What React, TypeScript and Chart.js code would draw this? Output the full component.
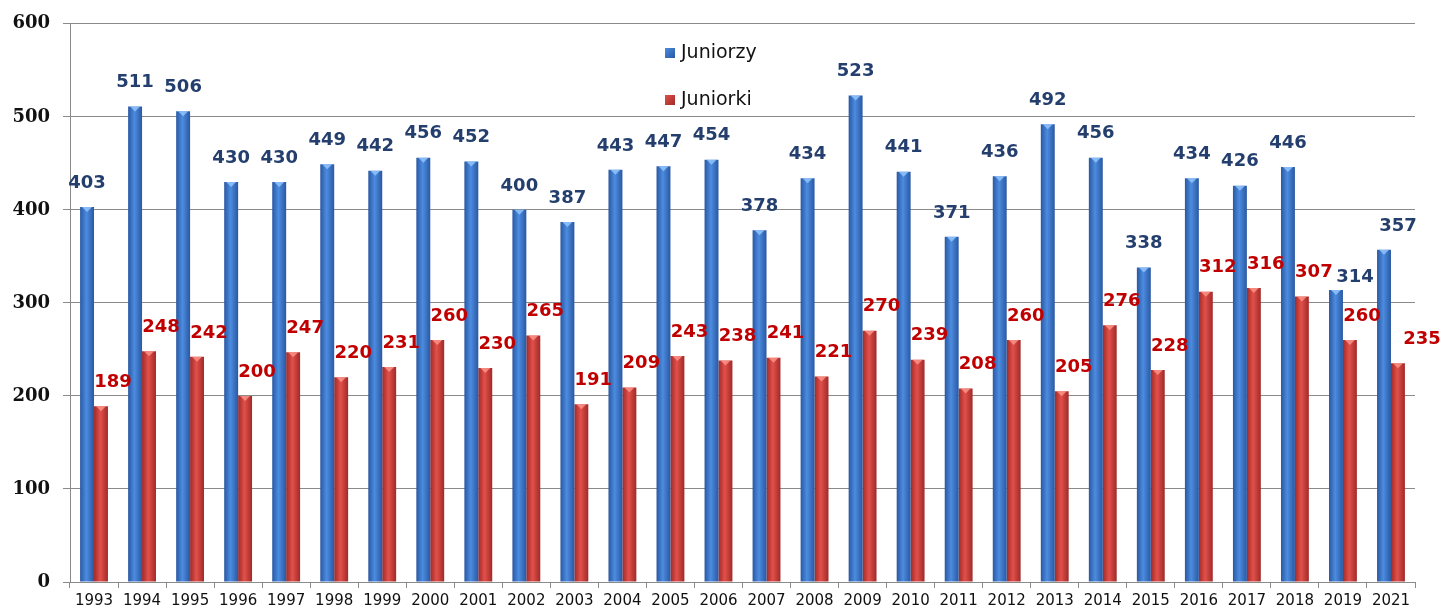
import React, { useEffect, useRef } from "react";
import { Chart, registerables } from "chart.js";

Chart.register(...registerables);

const categories = [
  "1993", "1994", "1995", "1996", "1997", "1998", "1999", "2000", "2001", "2002",
  "2003", "2004", "2005", "2006", "2007", "2008", "2009", "2010", "2011", "2012",
  "2013", "2014", "2015", "2016", "2017", "2018", "2019", "2021",
];
const juniorzy = [
  403, 511, 506, 430, 430, 449, 442, 456, 452, 400, 387, 443, 447, 454, 378, 434,
  523, 441, 371, 436, 492, 456, 338, 434, 426, 446, 314, 357,
];
const juniorki = [
  189, 248, 242, 200, 247, 220, 231, 260, 230, 265, 191, 209, 243, 238, 241, 221,
  270, 239, 208, 260, 205, 276, 228, 312, 316, 307, 260, 235,
];
const yTicks = [0, 100, 200, 300, 400, 500, 600];

const seriesNames = ["Juniorzy", "Juniorki"];
const barColors = [
  { edge: "#2A58A2", mid: "#4C8CE0", solid: "#3B74C6", label: "#243F6E" },
  { edge: "#A02A28", mid: "#E2504A", solid: "#CC3B37", label: "#C00000" },
];

const gradientPlugin = {
  id: "barGradient",
  beforeDatasetsDraw(chart: any) {
    const ctx = chart.ctx;
    chart.data.datasets.forEach((_ds: any, di: number) => {
      const meta = chart.getDatasetMeta(di);
      const c = barColors[di];
      meta.data.forEach((el: any) => {
        const w = el.width;
        const g = ctx.createLinearGradient(el.x - w / 2, 0, el.x + w / 2, 0);
        g.addColorStop(0, c.edge);
        g.addColorStop(0.45, c.mid);
        g.addColorStop(1, c.edge);
        el.options = Object.assign({}, el.options, { backgroundColor: g });
      });
    });
  },
  afterDatasetsDraw(chart: any) {
    // small lighter bevel at the top of each bar
    const ctx = chart.ctx;
    ctx.save();
    chart.data.datasets.forEach((_ds: any, di: number) => {
      const meta = chart.getDatasetMeta(di);
      meta.data.forEach((el: any) => {
        const w = el.width;
        ctx.fillStyle = di === 0 ? "rgba(150,200,255,0.8)" : "rgba(255,150,140,0.8)";
        ctx.beginPath();
        ctx.moveTo(el.x - w / 2 + 2, el.y);
        ctx.lineTo(el.x + w / 2 - 2, el.y);
        ctx.lineTo(el.x, el.y + 5);
        ctx.closePath();
        ctx.fill();
      });
    });
    ctx.restore();
  },
};

const labelPlugin = {
  id: "valueLabels",
  afterDatasetsDraw(chart: any) {
    const ctx = chart.ctx;
    ctx.save();
    ctx.font = "bold 18px 'DejaVu Sans'";
    ctx.textAlign = "center";
    ctx.textBaseline = "bottom";
    chart.data.datasets.forEach((ds: any, di: number) => {
      const meta = chart.getDatasetMeta(di);
      ctx.fillStyle = barColors[di].label;
      meta.data.forEach((el: any, i: number) => {
        let dx = di === 1 ? 12 : 0;
        let dy = 15;
        const last = i === meta.data.length - 1;
        const prev = i === meta.data.length - 2;
        if (di === 1 && last) dx = 24;
        if (di === 0 && prev) { dx = 19; dy = 4; }
        if (di === 0 && last) { dx = 14; }
        ctx.fillText(String(ds.data[i]), el.x + dx, el.y - dy);
      });
    });
    ctx.restore();
  },
};

const legendPlugin = {
  id: "customLegend",
  afterDraw(chart: any) {
    const ctx = chart.ctx;
    ctx.save();
    ctx.font = "19px 'DejaVu Sans'";
    ctx.textBaseline = "middle";
    ctx.textAlign = "left";
    const x = 665;
    const ys = [53, 100];
    seriesNames.forEach((name, i) => {
      const c = barColors[i];
      const g = ctx.createLinearGradient(x, ys[i] - 5, x + 10, ys[i] + 5);
      g.addColorStop(0, c.mid);
      g.addColorStop(1, c.edge);
      ctx.fillStyle = g;
      ctx.fillRect(x, ys[i] - 5, 10, 10);
      ctx.fillStyle = "#111";
      ctx.fillText(name, x + 16, ys[i]);
    });
    ctx.restore();
  },
};

export default function App() {
  const ref = useRef<HTMLCanvasElement | null>(null);
  useEffect(() => {
    if (!ref.current) return;
    const chart = new Chart(ref.current, {
      type: "bar",
      data: {
        labels: categories,
        datasets: [
          { label: seriesNames[0], data: juniorzy, backgroundColor: () => barColors[0].solid },
          { label: seriesNames[1], data: juniorki, backgroundColor: () => barColors[1].solid },
        ],
      },
      options: {
        animation: false,
        responsive: false,
        maintainAspectRatio: false,
        layout: { padding: { top: 22, right: 25, left: 0, bottom: 0 } },
        datasets: {
          bar: { categoryPercentage: 0.58, barPercentage: 1.0 },
        },
        plugins: {
          legend: { display: false },
          tooltip: { enabled: false },
        },
        scales: {
          x: {
            grid: {
              offset: true,
              drawOnChartArea: false,
              drawTicks: true,
              tickLength: 6,
              color: "#8a8a8a",
            },
            border: { color: "#8a8a8a" },
            ticks: {
              color: "#111",
              font: { family: "'DejaVu Sans'", size: 15 },
              maxRotation: 0,
              autoSkip: false,
              padding: 4,
            },
            afterFit: (s: any) => { s.height = 32; },
          },
          y: {
            min: 0,
            max: 600,
            afterBuildTicks: (s: any) => { s.ticks = yTicks.map((v) => ({ value: v })); },
            grid: { color: "#8a8a8a", tickLength: 7 },
            border: { color: "#8a8a8a" },
            ticks: {
              color: "#111",
              font: { family: "'DejaVu Serif'", size: 18, weight: "bold" },
              padding: 13,
            },
            afterFit: (s: any) => { s.width = 70; },
          },
        },
      },
      plugins: [gradientPlugin, labelPlugin, legendPlugin],
    });
    return () => chart.destroy();
  }, []);
  return (
    <div style={{ position: "fixed", left: 0, top: 0, width: 1440, height: 614, background: "#fff" }}>
      <canvas ref={ref} width={1440} height={614} style={{ width: 1440, height: 614 }} />
    </div>
  );
}
